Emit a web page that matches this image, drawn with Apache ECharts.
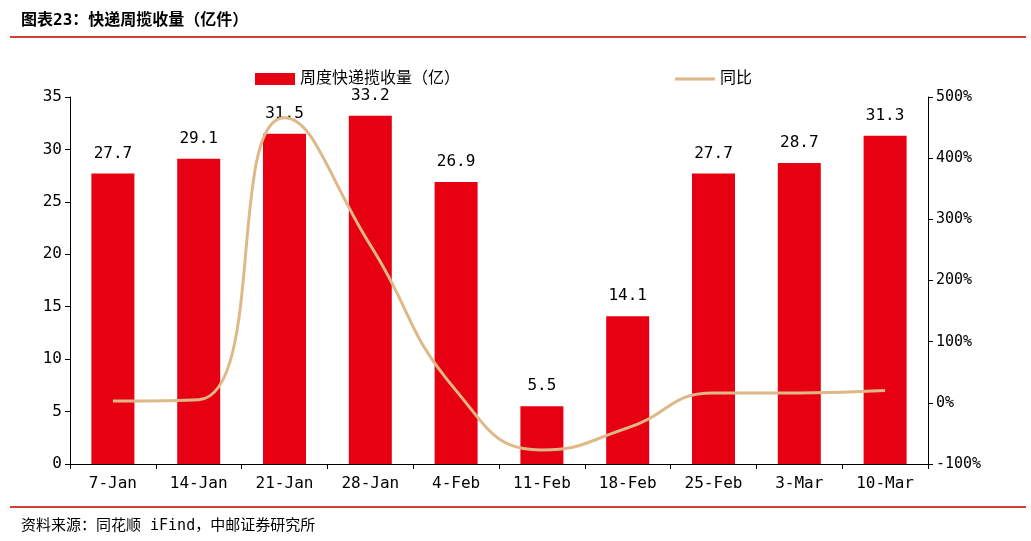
<!DOCTYPE html>
<html>
<head>
<meta charset="utf-8">
<script src="https://cdn.jsdelivr.net/npm/echarts@6/dist/echarts.min.js"></script>
<style>
  html, body { margin: 0; padding: 0; background: #fff; }
  #chart { width: 1031px; height: 541px; }
</style>
</head>
<body>
<div id="chart"></div>
<script>
const categories = ['7-Jan', '14-Jan', '21-Jan', '28-Jan', '4-Feb', '11-Feb', '18-Feb', '25-Feb', '3-Mar', '10-Mar'];
const volume = [27.7, 29.1, 31.5, 33.2, 26.9, 5.5, 14.1, 27.7, 28.7, 31.3];
const yoy = [3, 5, 466, 258, 20, -77, -41, 16, 16, 20];

const font = '"DejaVu Sans Mono", "Noto Sans CJK SC", monospace';
const chart = echarts.init(document.getElementById('chart'));

chart.setOption({
  animation: false,
  textStyle: { fontFamily: font, color: '#000' },
  title: [
    { text: '图表23：快递周揽收量（亿件）', left: 16, top: 8,
      textStyle: { fontSize: 16, fontWeight: 'bold', color: '#000', fontFamily: font } },
    { text: '资料来源：同花顺 iFind，中邮证券研究所', left: 16, top: 514,
      textStyle: { fontSize: 15, fontWeight: 'normal', color: '#000', fontFamily: font } }
  ],
  graphic: [
    { type: 'line', shape: { x1: 10, y1: 37, x2: 1026, y2: 37 }, style: { stroke: '#c00000', lineWidth: 1.5 } },
    { type: 'line', shape: { x1: 10, y1: 507, x2: 1026, y2: 507 }, style: { stroke: '#c00000', lineWidth: 1.5 } }
  ],
  legend: {
    top: 66, left: 250, itemGap: 215,
    textStyle: { fontSize: 16, fontFamily: font, color: '#000' },
    data: [
      { name: '周度快递揽收量（亿）', icon: 'rect' },
      { name: '同比', icon: 'path://M0,5L40,5L40,8L0,8Z' }
    ],
    itemWidth: 40, itemHeight: 12
  },
  grid: { left: 70, right: 103, top: 97, bottom: 77 },
  xAxis: {
    type: 'category', data: categories,
    axisLine: { lineStyle: { color: '#000' } },
    axisTick: { show: true, lineStyle: { color: '#000' } },
    axisLabel: { fontSize: 16, color: '#000', margin: 12, fontFamily: font }
  },
  yAxis: [
    { type: 'value', min: 0, max: 35, interval: 5, splitLine: { show: false },
      axisLine: { show: true, lineStyle: { color: '#000' } }, axisTick: { show: true },
      axisLabel: { fontSize: 16, color: '#000', fontFamily: font } },
    { type: 'value', min: -100, max: 500, interval: 100, splitLine: { show: false },
      axisLine: { show: true, lineStyle: { color: '#000' } }, axisTick: { show: true },
      axisLabel: { fontSize: 15, color: '#000', formatter: '{value}%', fontFamily: font } }
  ],
  series: [
    { name: '周度快递揽收量（亿）', type: 'bar', data: volume, barWidth: 43,
      itemStyle: { color: '#e60012' },
      label: { show: true, position: 'top', fontSize: 16, color: '#000', distance: 12, fontFamily: font } },
    { name: '同比', type: 'line', yAxisIndex: 1, data: yoy, smooth: 0.5, symbol: 'none',
      lineStyle: { color: '#dfb887', width: 3 }, itemStyle: { color: '#dfb887' } }
  ]
});
</script>
</body>
</html>
